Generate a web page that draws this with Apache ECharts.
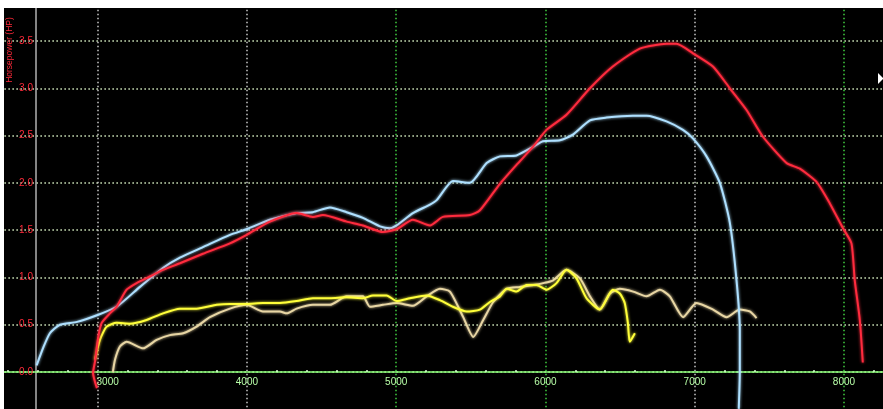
<!DOCTYPE html>
<html><head><meta charset="utf-8">
<script src="https://cdn.jsdelivr.net/npm/echarts@6/dist/echarts.min.js"></script>
<style>html,body{margin:0;padding:0;background:#fff;} #c{width:883px;height:409px;}</style>
</head><body><div id="c"></div>
<script>
const xTickLabels = [3000, 4000, 5000, 6000, 7000, 8000];
const yTickLabels = [0, 0.5, 1, 1.5, 2, 2.5, 3, 3.5];
const yTitle = 'Horsepower (HP)';

const blueRpm = [2591,2636,2680,2747,2862,2995,3127,3283,3437,3551,3705,3886,3998,4154,4333,4442,4556,4668,4777,4891,4958,5003,5112,5226,5273,5380,5494,5606,5695,5806,5916,5983,6097,6184,6298,6409,6586,6677,6811,6921,6988,7079,7168,7235,7280,7302,7302,7295];
const blueHp  = [0.07,0.26,0.41,0.50,0.53,0.60,0.69,0.90,1.10,1.21,1.32,1.45,1.51,1.61,1.68,1.69,1.74,1.69,1.63,1.54,1.52,1.55,1.68,1.77,1.82,2.02,2.00,2.21,2.28,2.29,2.38,2.44,2.45,2.51,2.66,2.69,2.71,2.71,2.65,2.56,2.47,2.28,2.00,1.58,0.97,0.44,0.00,-0.39];

const redRpm = [2995,2969,2982,3004,3027,3082,3127,3194,3261,3350,3437,3551,3705,3886,3998,4154,4333,4442,4509,4668,4777,4911,5003,5112,5226,5313,5494,5561,5695,5806,5916,6007,6141,6298,6451,6632,6811,6878,6988,7122,7235,7347,7456,7615,7704,7816,7906,7993,8050,8072,8106,8126];
const redHp  = [-0.17,-0.01,0.11,0.37,0.52,0.62,0.69,0.87,0.94,1.01,1.08,1.15,1.25,1.36,1.45,1.59,1.68,1.64,1.66,1.59,1.55,1.48,1.51,1.61,1.55,1.64,1.66,1.71,1.99,2.19,2.38,2.56,2.72,3.00,3.23,3.42,3.47,3.47,3.37,3.23,3.00,2.77,2.49,2.21,2.15,2.01,1.78,1.52,1.36,0.97,0.55,0.10];

const yellowRpm = [2982,3015,3060,3127,3216,3328,3437,3551,3663,3797,3886,3998,4107,4221,4333,4442,4556,4668,4777,4844,4936,5003,5092,5204,5293,5380,5472,5561,5628,5695,5740,5806,5873,5940,6007,6074,6141,6208,6275,6364,6451,6498,6531,6552,6565,6599];
const yellowHp  = [0.13,0.34,0.48,0.52,0.51,0.55,0.62,0.67,0.67,0.71,0.72,0.72,0.73,0.73,0.75,0.78,0.78,0.79,0.78,0.81,0.81,0.75,0.78,0.81,0.76,0.69,0.64,0.66,0.74,0.80,0.88,0.85,0.92,0.92,0.87,0.94,1.08,0.99,0.78,0.66,0.87,0.83,0.73,0.52,0.32,0.41];

const tanRpm = [3102,3116,3149,3194,3305,3395,3484,3573,3663,3752,3886,3998,4107,4221,4266,4333,4442,4556,4668,4777,4824,4911,5003,5112,5204,5293,5360,5449,5516,5583,5650,5740,5829,5918,5985,6052,6141,6231,6298,6364,6432,6498,6588,6677,6767,6833,6922,7012,7123,7213,7302,7369,7414];
const tanHp  = [0.00,0.13,0.27,0.32,0.25,0.34,0.39,0.41,0.48,0.58,0.67,0.71,0.64,0.64,0.62,0.67,0.71,0.71,0.80,0.80,0.69,0.71,0.73,0.70,0.80,0.88,0.85,0.58,0.37,0.55,0.74,0.88,0.90,0.92,0.94,0.97,1.08,0.99,0.80,0.66,0.83,0.88,0.85,0.80,0.87,0.80,0.58,0.73,0.66,0.58,0.66,0.64,0.57];

const zip = (a, b) => a.map((v, i) => [v, b[i]]);
const FONT = 'Liberation Sans, Arial, sans-serif';
const gridDash = [1.5, 2.5];

const chart = echarts.init(document.getElementById('c'), null, {renderer: 'canvas'});
function mk(name, rpm, hp, color, z) {
  return {
    name, type: 'line', data: zip(rpm, hp), showSymbol: false, smooth: 0.2, z,
    lineStyle: {color, width: 2, shadowColor: color, shadowBlur: 3},
    itemStyle: {color}, animation: false
  };
}
chart.setOption({
  backgroundColor: '#000',
  animation: false,
  grid: {left: -51.6, right: -20.7, top: -6.3, bottom: -10.3, containLabel: false, outerBoundsMode: 'none'},
  xAxis: {
    type: 'value', min: 2000, max: 8400, interval: 1000, offset: -47.3,
    axisLine: {show: true, onZero: false, lineStyle: {color: '#8cff7a', width: 1.5}},
    axisTick: {show: false, inside: true},
    minorTick: {show: true, splitNumber: 5, length: 2, lineStyle: {color: '#d8ffd0', width: 1.5}},
    axisLabel: {
      color: '#b8ffa8', fontSize: 10, fontFamily: FONT, margin: 5, hideOverlap: false,
      showMinLabel: true, showMaxLabel: true,
      formatter: v => xTickLabels.includes(v) ? (v === xTickLabels[0] ? '{s|' + v + '}' : String(v)) : '',
      rich: {s: {color: '#b8ffa8', fontSize: 10, fontFamily: FONT, padding: [0, 0, 0, 20]}}
    },
    splitLine: {show: true, lineStyle: {type: gridDash, width: 1.5,
      color: ['#000', '#c8c8c8', '#c8c8c8', '#40d040', '#40d040', '#c8c8c8', '#40d040', '#000']}}
  },
  yAxis: {
    type: 'value', min: -0.5, max: 4.0, interval: 0.5, offset: -87.6,
    axisLine: {show: true, onZero: false, lineStyle: {color: '#b0b0b0', width: 1.5}},
    axisTick: {show: false},
    axisLabel: {
      color: '#ff2a3a', fontSize: 10, fontFamily: FONT, margin: 3,
      formatter: v => yTickLabels.some(t => Math.abs(t - v) < 1e-6) ? v.toFixed(1) : ''
    },
    splitLine: {show: true, lineStyle: {type: gridDash, width: 1.5, color: '#d4ecc0'}}
  },
  graphic: [
    {type: 'text', x: 10, y: 50, z: 50, rotation: Math.PI / 2,
     style: {text: yTitle, fill: '#ff2a3a', fontSize: 8.5, fontFamily: FONT, align: 'center', verticalAlign: 'middle'}},
    {type: 'polygon', z: 50, shape: {points: [[878, 73], [883, 78], [883, 79], [878, 84]]}, style: {fill: '#fff'}},
    {type: 'rect', z: 100, shape: {x: 0, y: 0, width: 883, height: 8}, style: {fill: '#fff'}},
    {type: 'rect', z: 100, shape: {x: 0, y: 0, width: 4, height: 409}, style: {fill: '#fff'}}
  ],
  series: [
    mk('tan', tanRpm, tanHp, '#e8d6a4', 2),
    mk('yellow', yellowRpm, yellowHp, '#ffff3a', 3),
    mk('blue', blueRpm, blueHp, '#aee0ff', 4),
    mk('red', redRpm, redHp, '#ff2b3e', 5)
  ]
});
</script></body></html>
